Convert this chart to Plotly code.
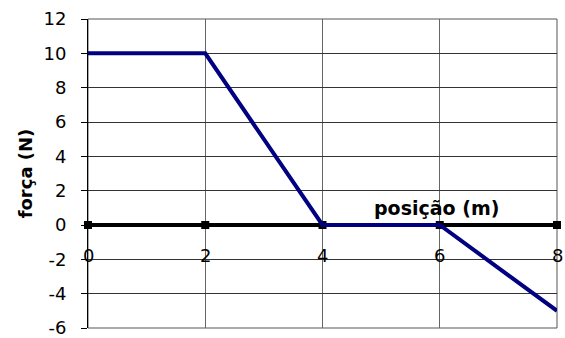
import plotly.graph_objects as go

# data
posicao = [0, 2, 4, 6, 8]
forca = [10, 10, 0, 0, -5]
eixo_x = [0, 2, 4, 6, 8]
eixo_y = [0, 0, 0, 0, 0]
x_labels = [str(v) for v in eixo_x]
y_ticks = [-6, -4, -2, 0, 2, 4, 6, 8, 10, 12]
y_labels = [str(v) for v in y_ticks]  # plain hyphen for negatives

font_family = "DejaVu Sans, sans-serif"

fig = go.Figure()

# thick black x axis at y = 0 with square markers
fig.add_trace(go.Scatter(
    x=eixo_x, y=eixo_y, mode="lines+markers",
    line=dict(color="black", width=4),
    marker=dict(symbol="square", size=8, color="black"),
    showlegend=False, hoverinfo="skip", cliponaxis=False))

fig.add_trace(go.Scatter(
    x=posicao, y=forca, mode="lines",
    line=dict(color="rgb(0,0,128)", width=4),
    showlegend=False, cliponaxis=False))

# x tick labels sit below the y = 0 axis line
annotations = [dict(text=lab, x=xv, y=yv, xref="x", yref="y", yshift=-30,
                    showarrow=False, font=dict(size=18))
               for xv, yv, lab in zip(eixo_x, eixo_y, x_labels)]
annotations.append(dict(text="<b>posição (m)</b>", x=5.95, y=1.0, xref="x", yref="y",
                        showarrow=False, font=dict(size=19)))

fig.update_layout(
    width=565, height=338,
    margin=dict(l=88, r=8, t=19, b=10),
    plot_bgcolor="white", paper_bgcolor="white",
    font=dict(family=font_family, size=18, color="black"),
    xaxis=dict(range=[0, 8], tickvals=eixo_x, showticklabels=False, ticks="",
               showline=False, zeroline=False,
               showgrid=True, gridcolor="#666", gridwidth=1,
               automargin=False),
    yaxis=dict(range=[-6, 12], tickvals=y_ticks, ticktext=y_labels,
               ticks="outside", ticklen=6, tickcolor="black",
               ticklabelstandoff=11, ticklabeloverflow="allow",
               showline=True, linecolor="black", linewidth=1,
               zeroline=False, showgrid=True, gridcolor="#333", gridwidth=1,
               automargin=False,
               title=dict(text="<b>força (N)</b>", standoff=6,
                          font=dict(size=18))),
    shapes=[dict(type="rect", xref="paper", yref="paper", x0=0, x1=1, y0=0, y1=1,
                 line=dict(color="#555", width=1), layer="below")],
    annotations=annotations,
)

# drop the browser's default 8px body margin so the figure fills the window
fig.write_html("out.html", config={"displayModeBar": False},
               post_script="document.body.style.margin='0';document.body.style.overflow='hidden';")
